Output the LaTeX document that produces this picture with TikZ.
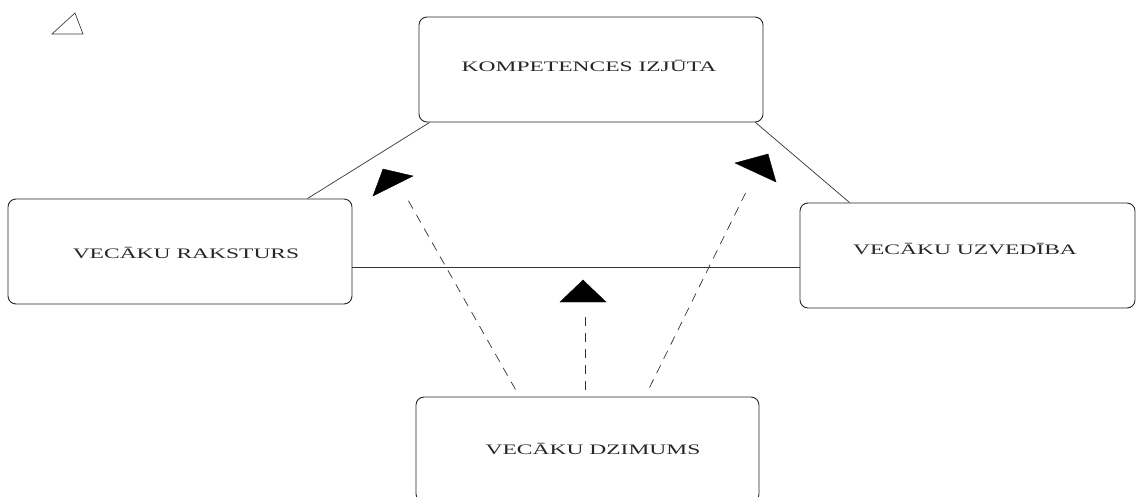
\documentclass[tikz,border=0pt]{standalone}
\usepackage{fontspec}
\setmainfont{Liberation Serif}
\newfontfamily\widefont[FakeStretch=1.62]{Liberation Serif}
\usetikzlibrary{calc}
\begin{document}
\begin{tikzpicture}[x=1pt,y=-1pt,
  box/.style={draw=black!85, line width=0.9pt, rounded corners=8pt,
    minimum height=105pt, inner sep=0pt},
  lbl/.style={inner sep=0pt, text=black!85,
    font=\widefont\fontsize{14.5}{16}\selectfont},
  link/.style={draw=black!80, line width=0.7pt},
  dlink/.style={link, dash pattern=on 9pt off 7pt},
  head/.style={fill=black, draw=black, line width=0.4pt},
  tri/.style={draw=black!75, line width=0.7pt}]
\useasboundingbox (0,0) rectangle (1139,497);
\clip (0,0) rectangle (1139,497);

% small triangle mark
\draw[tri] (52,34) -- (75,13) -- (83,34) -- cycle;

% boxes
\node[box, minimum width=344pt] (top) at (591,69.5) {};
\node[box, minimum width=344pt] (left) at (180,251.5) {};
\node[box, minimum width=335pt] (right) at (967.5,255.5) {};
\node[box, minimum width=343pt] (bottom) at (587.5,449.5) {};

% labels
\node[lbl] (topT) at (589,66) {KOMPETENCES IZJŪTA};
\node[lbl] (leftT) at (186,253) {VECĀKU RAKSTURS};
\node[lbl] (rightT) at (965,249) {VECĀKU UZVEDĪBA};
\node[lbl] (bottomT) at (593,449) {VECĀKU DZIMUMS};

% solid connectors
\draw[link] ($(top.south west)+(11,0)$) -- ($(left.north east)+(-45,0)$);
\draw[link] ($(top.south east)+(-8,0)$) -- ($(right.north west)+(50,0)$);
\draw[link] ($(left.east)+(0,15.5)$) -- ($(right.west)+(0,11.5)$);

% dashed influences
\coordinate (d1s) at ($(bottom.north)+(-72,-7)$);
\coordinate (d1e) at (408,200);
\coordinate (d2s) at ($(bottom.north)+(-2.5,-7)$);
\coordinate (d2e) at (585,312);
\coordinate (d3s) at ($(bottom.north)+(62,-9)$);
\coordinate (d3e) at (748,188);
\draw[dlink] (d1s) -- (d1e);
\draw[dlink] (d2s) -- (d2e);
\draw[dlink] (d3s) -- (d3e);

% arrowheads
\fill[head] (373,196) -- (383,169) -- (413,176) -- cycle;
\fill[head] (560,302) -- (583,280) -- (606,302) -- cycle;
\fill[head] (735,163) -- (768,154) -- (776,182) -- cycle;
\end{tikzpicture}
\end{document}
